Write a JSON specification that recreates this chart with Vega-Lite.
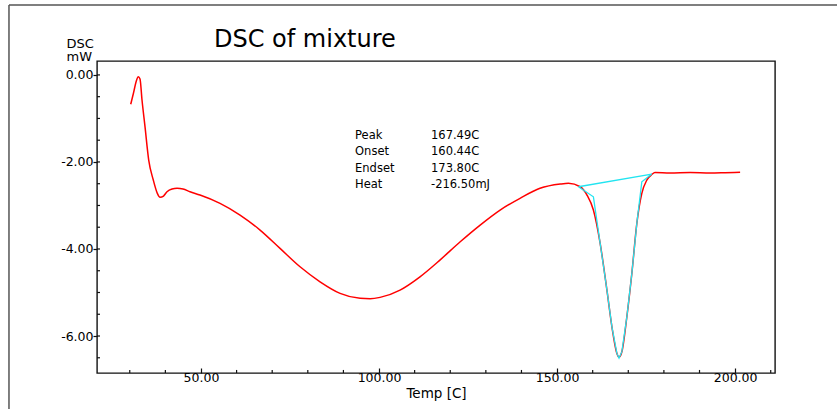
{
  "$schema": "https://vega.github.io/schema/vega-lite/v6.json",
  "width": 678,
  "height": 312,
  "autosize": "none",
  "padding": {"left": 97, "top": 61, "right": 62, "bottom": 36},
  "background": "white",
  "config": {
    "view": {"stroke": "#111", "strokeWidth": 1.4},
    "font": "DejaVu Sans",
    "axis": {"grid": false, "domain": false, "labelFont": "DejaVu Sans", "titleFont": "DejaVu Sans", "labelColor": "#000", "titleColor": "#000", "titleFontWeight": "normal", "tickColor": "#111", "tickWidth": 1.2, "labelOverlap": false, "labelBound": false, "labelFlush": false}
  },
  "title": {"text": "DSC of mixture", "anchor": "start", "frame": "group", "dx": 117, "offset": -48, "font": "DejaVu Sans", "fontSize": 24, "fontWeight": "normal", "color": "#000"},
  "datasets": {
    "dsc": [
      {"t": 30.27, "mw": -0.675}, {"t": 31.05, "mw": -0.416}, {"t": 31.76, "mw": -0.163}, {"t": 32.4, "mw": -0.041},
      {"t": 32.88, "mw": -0.094}, {"t": 33.44, "mw": -0.577}, {"t": 34.28, "mw": -1.19}, {"t": 35.32, "mw": -1.956},
      {"t": 36.61, "mw": -2.416}, {"t": 37.74, "mw": -2.721}, {"t": 38.5, "mw": -2.813}, {"t": 39.48, "mw": -2.783},
      {"t": 40.46, "mw": -2.685}, {"t": 41.87, "mw": -2.623}, {"t": 43.27, "mw": -2.606}, {"t": 44.96, "mw": -2.623},
      {"t": 46.92, "mw": -2.685}, {"t": 49.73, "mw": -2.76}, {"t": 55.35, "mw": -2.951}, {"t": 60.97, "mw": -3.22},
      {"t": 66.59, "mw": -3.565}, {"t": 72.2, "mw": -3.986}, {"t": 77.82, "mw": -4.409}, {"t": 83.44, "mw": -4.754},
      {"t": 89.06, "mw": -5.02}, {"t": 94.68, "mw": -5.135}, {"t": 97.49, "mw": -5.144}, {"t": 100.3, "mw": -5.112},
      {"t": 105.9, "mw": -4.944}, {"t": 111.5, "mw": -4.639}, {"t": 117.1, "mw": -4.255}, {"t": 122.8, "mw": -3.834},
      {"t": 128.4, "mw": -3.45}, {"t": 134.0, "mw": -3.105}, {"t": 139.6, "mw": -2.836}, {"t": 145.2, "mw": -2.606},
      {"t": 150.9, "mw": -2.508}, {"t": 153.2, "mw": -2.491}, {"t": 156.5, "mw": -2.57}, {"t": 158.4, "mw": -2.76},
      {"t": 160.2, "mw": -3.105}, {"t": 162.1, "mw": -3.871}, {"t": 164.0, "mw": -4.944}, {"t": 165.4, "mw": -5.788},
      {"t": 166.8, "mw": -6.4}, {"t": 167.4, "mw": -6.485}, {"t": 168.2, "mw": -6.363}, {"t": 169.6, "mw": -5.558},
      {"t": 171.0, "mw": -4.56}, {"t": 172.4, "mw": -3.411}, {"t": 173.8, "mw": -2.721}, {"t": 175.2, "mw": -2.416},
      {"t": 176.6, "mw": -2.289}, {"t": 177.5, "mw": -2.243}, {"t": 181.7, "mw": -2.255}, {"t": 187.4, "mw": -2.243},
      {"t": 193.0, "mw": -2.255}, {"t": 197.2, "mw": -2.248}, {"t": 201.4, "mw": -2.239}
    ],
    "fit": [
      {"o": 1, "t": 156.0, "mw": -2.57}, {"o": 2, "t": 160.2, "mw": -2.8}, {"o": 3, "t": 162.1, "mw": -3.87},
      {"o": 4, "t": 164.0, "mw": -4.94}, {"o": 5, "t": 165.4, "mw": -5.79}, {"o": 6, "t": 166.8, "mw": -6.4},
      {"o": 7, "t": 167.4, "mw": -6.51}, {"o": 8, "t": 168.2, "mw": -6.36}, {"o": 9, "t": 169.6, "mw": -5.56},
      {"o": 10, "t": 171.0, "mw": -4.56}, {"o": 11, "t": 172.4, "mw": -3.41}, {"o": 12, "t": 173.8, "mw": -2.455},
      {"o": 13, "t": 176.6, "mw": -2.278}, {"o": 14, "t": 156.0, "mw": -2.57}
    ],
    "xminor": [
      {"t": 30}, {"t": 40}, {"t": 60}, {"t": 70}, {"t": 80}, {"t": 90}, {"t": 110}, {"t": 120}, {"t": 130},
      {"t": 140}, {"t": 160}, {"t": 170}, {"t": 180}, {"t": 190}, {"t": 210}
    ],
    "yminor": [
      {"mw": -6.5}, {"mw": -6}, {"mw": -5.5}, {"mw": -5}, {"mw": -4.5}, {"mw": -4}, {"mw": -3.5},
      {"mw": -3}, {"mw": -2.5}, {"mw": -2}, {"mw": -1.5}, {"mw": -1}, {"mw": -0.5}, {"mw": 0}
    ]
  },
  "layer": [
    {
      "data": {"name": "dsc"},
      "mark": {"type": "line", "color": "#ff0000", "strokeWidth": 1.5, "interpolate": "monotone"},
      "encoding": {
        "x": {"field": "t", "type": "quantitative",
          "scale": {"domain": [20.8, 211.2], "nice": false, "zero": false},
          "axis": {"title": "Temp [C]", "titleFontSize": 13.5, "titlePadding": 3,
            "values": [50, 100, 150, 200], "format": ".2f",
            "labelFontSize": 12.5, "labelPadding": 3,
            "labelOverlap": false, "labelBound": false, "labelFlush": false,
            "tickSize": -5}},
        "y": {"field": "mw", "type": "quantitative",
          "scale": {"domain": [-6.85, 0.32], "nice": false, "zero": false},
          "axis": {"title": ["DSC", "mW"], "titleAngle": 0, "titleAlign": "left", "titleBaseline": "top",
            "titleX": -31, "titleY": -24, "titleFontSize": 13, "titleLineHeight": 13.5,
            "values": [-6, -4, -2, 0],
            "labelExpr": "(datum.value < 0 ? '-' : '') + format(abs(datum.value), '.2f')",
            "labelFontSize": 12.5, "labelPadding": 0,
            "labelOverlap": false, "labelBound": false, "labelFlush": false,
            "tickSize": 4}}
      }
    },
    {
      "data": {"name": "xminor"},
      "mark": {"type": "rule", "color": "#111", "strokeWidth": 1.2},
      "encoding": {
        "x": {"field": "t", "type": "quantitative"},
        "y": {"datum": -6.85, "type": "quantitative"},
        "y2": {"datum": -6.78}
      }
    },
    {
      "data": {"name": "yminor"},
      "mark": {"type": "rule", "color": "#111", "strokeWidth": 1.2},
      "encoding": {
        "x": {"datum": 20.8, "type": "quantitative"},
        "x2": {"datum": 21.65},
        "y": {"field": "mw", "type": "quantitative"}
      }
    },
    {
      "data": {"name": "fit"},
      "mark": {"type": "line", "color": "#22e4f0", "strokeWidth": 1.3},
      "encoding": {
        "x": {"field": "t", "type": "quantitative"},
        "y": {"field": "mw", "type": "quantitative"},
        "order": {"field": "o", "type": "quantitative"}
      }
    },
    {
      "data": {"values": [{"label": ["Peak", "Onset", "Endset", "Heat"], "value": ["167.49C", "160.44C", "173.80C", "-216.50mJ"]}]},
      "layer": [
        {
          "mark": {"type": "text", "align": "left", "baseline": "middle", "lineHeight": 16.5, "fontSize": 11.5, "font": "DejaVu Sans", "color": "#000"},
          "encoding": {
            "x": {"datum": 93.27, "type": "quantitative"},
            "y": {"datum": -1.397, "type": "quantitative"},
            "text": {"field": "label"}
          }
        },
        {
          "mark": {"type": "text", "align": "left", "baseline": "middle", "lineHeight": 16.5, "fontSize": 11.5, "font": "DejaVu Sans", "color": "#000"},
          "encoding": {
            "x": {"datum": 114.6, "type": "quantitative"},
            "y": {"datum": -1.397, "type": "quantitative"},
            "text": {"field": "value"}
          }
        }
      ]
    },
    {
      "data": {"values": [{}]},
      "layer": [
        {
          "mark": {"type": "rule", "color": "#555", "strokeWidth": 1.5, "clip": false},
          "encoding": {
            "x": {"datum": -3.92, "type": "quantitative"},
            "y": {"datum": 1.607, "type": "quantitative"},
            "y2": {"datum": -7.7}
          }
        },
        {
          "mark": {"type": "rule", "color": "#555", "strokeWidth": 1.5, "clip": false},
          "encoding": {
            "x": {"datum": -3.92, "type": "quantitative"},
            "x2": {"datum": 229},
            "y": {"datum": 1.607, "type": "quantitative"}
          }
        }
      ]
    }
  ]
}
